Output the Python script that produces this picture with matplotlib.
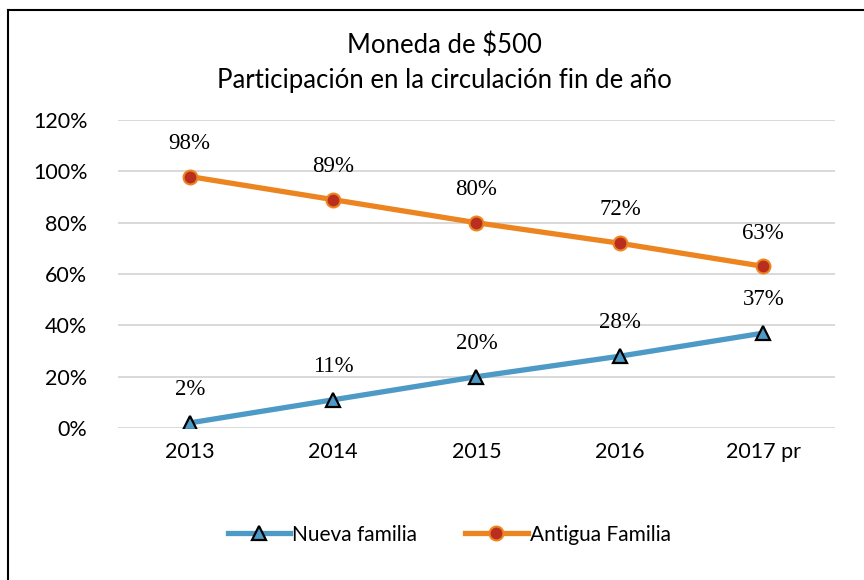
import matplotlib.pyplot as plt
from matplotlib.lines import Line2D

years = ["2013", "2014", "2015", "2016", "2017 pr"]
nueva = [2, 11, 20, 28, 37]
antigua = [98, 89, 80, 72, 63]
yticks = [0, 20, 40, 60, 80, 100, 120]

plt.rcParams['font.family'] = ['Lato', 'DejaVu Sans']

fig = plt.figure(figsize=(8.64, 5.8), dpi=100)
ax = fig.add_axes([0.1366, 0.262, 0.8298, 0.531])

x = list(range(len(years)))
ax.plot(x, nueva, color="#4D9AC6", lw=3.8, marker="^", ms=10,
        mfc="#4D9AC6", mec="black", mew=1.6, label="Nueva familia", zorder=3)
ax.plot(x, antigua, color="#EC8520", lw=3.8, marker="o", ms=10,
        mfc="#B92E1F", mec="#EC8520", mew=1.5, label="Antigua Familia", zorder=3)

for i in x:
    ax.annotate(f"{nueva[i]}%", (i, nueva[i]), xytext=(0, 24), textcoords="offset points",
                ha="center", va="center", fontsize=16.5, family="Liberation Serif")
    ax.annotate(f"{antigua[i]}%", (i, antigua[i]), xytext=(0, 24), textcoords="offset points",
                ha="center", va="center", fontsize=16.5, family="Liberation Serif")

ax.set_xlim(-0.5, 4.5)
ax.set_ylim(0, 120)
ax.set_yticks(yticks)
ax.set_yticklabels([f"{v}%" for v in yticks])
ax.set_xticks(x)
ax.set_xticklabels(years)
ax.tick_params(length=0, labelsize=15.5, pad=10)
ax.tick_params(axis="y", pad=22)
ax.grid(axis="y", color="#D9D9D9", lw=1.4)
ax.set_axisbelow(True)
for s in ax.spines.values():
    s.set_visible(False)

fig.text(0.514, 0.922, "Moneda de $500", ha="center", va="center", fontsize=18.5)
fig.text(0.514, 0.862, "Participación en la circulación fin de año", ha="center",
         va="center", fontsize=18.5)

fig.legend(loc="center", bbox_to_anchor=(0.52, 0.078), ncol=2, frameon=False,
           fontsize=15, handlelength=3.0, handletextpad=0.1, columnspacing=2.3)

# outer frame
fig.add_artist(Line2D([0.009, 1.0], [0.983, 0.983], color="black", lw=1.5))
fig.add_artist(Line2D([0.009, 0.009], [0.0, 0.983], color="black", lw=1.5))

fig.savefig("out.png", dpi=100)
